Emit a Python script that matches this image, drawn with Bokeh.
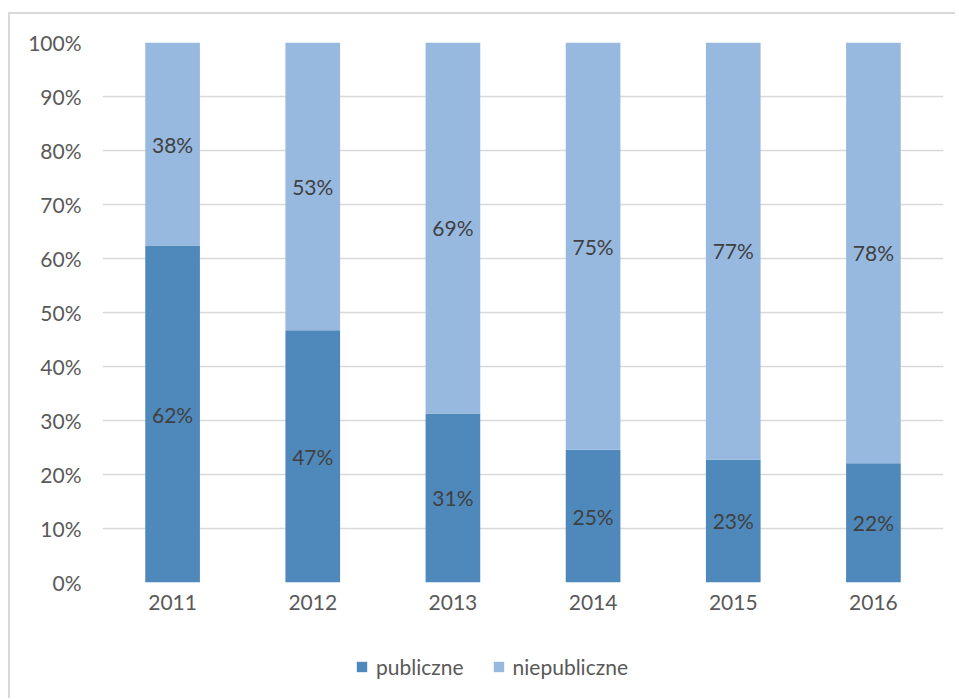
from bokeh.plotting import figure
from bokeh.layouts import column
from bokeh.models import (ColumnDataSource, FactorRange, FixedTicker, PrintfTickFormatter,
                          Legend, LegendItem, Range1d)
from bokeh.core.properties import value
from bokeh.embed import file_html
from bokeh.resources import INLINE

years = ["2011", "2012", "2013", "2014", "2015", "2016"]
publiczne = [62.4, 46.7, 31.3, 24.6, 22.8, 22.1]
niepubliczne = [37.6, 53.3, 68.7, 75.4, 77.2, 77.9]
series = ["publiczne", "niepubliczne"]
colors = ["#4F89BC", "#97B9E0"]
y_ticks = [0, 10, 20, 30, 40, 50, 60, 70, 80, 90, 100]

FONT = "Lato"
FS = "21px"

src = ColumnDataSource(dict(years=years, publiczne=publiczne, niepubliczne=niepubliczne))

p = figure(x_range=FactorRange(factors=years, range_padding=0), y_range=Range1d(0, 100),
           width=945, height=618, output_backend="svg", toolbar_location=None,
           min_border_left=92, min_border_right=12, min_border_top=28, min_border_bottom=50)
p.outline_line_color = None

rs = p.vbar_stack(series, x="years", width=0.39, color=colors, source=src, line_color=None)

# data labels
lab_src = ColumnDataSource(dict(
    x=years + years,
    y=[v / 2 for v in publiczne] + [a + b / 2 for a, b in zip(publiczne, niepubliczne)],
    t=[f"{round(v)}%" for v in publiczne] + [f"{round(v)}%" for v in niepubliczne],
))
p.text(x="x", y="y", text="t", source=lab_src, text_align="center", text_baseline="middle",
       text_font=value(FONT), text_font_size=FS, text_color="#404040")

p.yaxis.ticker = FixedTicker(ticks=y_ticks)
p.yaxis.formatter = PrintfTickFormatter(format="%d%%")
for ax in (p.xaxis, p.yaxis):
    ax.axis_line_color = None
    ax.major_tick_line_color = None
    ax.minor_tick_line_color = None
    ax.major_tick_out = 0
    ax.major_tick_in = 0
    ax.minor_tick_out = 0
    ax.major_label_text_font = FONT
    ax.major_label_text_font_size = FS
    ax.major_label_text_color = "#595959"
p.yaxis.major_label_standoff = 21
p.xaxis.major_label_standoff = 12

p.xgrid.grid_line_color = None
p.ygrid.grid_line_color = "#d9d9d9"
p.ygrid.grid_line_width = 1.3

# legend strip below the chart (swatch renderers sit outside the visible range)
lf = figure(width=945, height=66, output_backend="svg", toolbar_location=None,
            x_axis_location=None, y_axis_location=None,
            x_range=Range1d(0, 1), y_range=Range1d(0, 1),
            min_border_left=0, min_border_right=0, min_border_top=0, min_border_bottom=0)
lf.outline_line_color = None
lf.grid.visible = False
lr = [lf.quad(left=[-3], right=[-2], bottom=[-3], top=[-2], color=c, line_color=None) for c in colors]
legend = Legend(items=[LegendItem(label=s, renderers=[r]) for s, r in zip(series, lr)],
                orientation="horizontal", location=(253, 19), padding=0, margin=0,
                border_line_color=None, background_fill_alpha=0,
                glyph_width=13, glyph_height=13, label_standoff=8, spacing=28,
                label_height=20,
                label_text_font=FONT, label_text_font_size=FS, label_text_color="#595959")
lf.add_layout(legend, "center")

layout = column(p, lf, spacing=0)
layout.styles = {"margin-top": "12px", "margin-left": "8px",
                 "border-top": "2px solid #d9d9d9", "border-left": "2px solid #d9d9d9"}

open("out.html", "w").write(file_html(layout, INLINE))
